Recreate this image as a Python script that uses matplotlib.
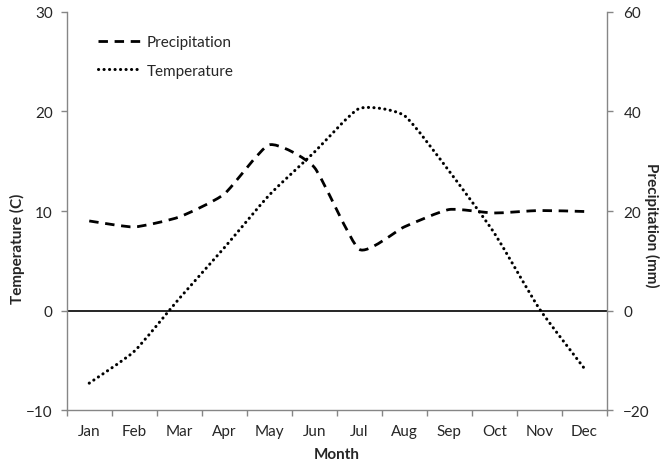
import matplotlib
matplotlib.use("Agg")
import matplotlib.pyplot as plt
import numpy as np
from matplotlib.path import Path
from matplotlib.patches import PathPatch
from matplotlib.lines import Line2D

plt.rcParams['font.family'] = ['Lato', 'DejaVu Sans']
plt.rcParams['font.size'] = 11

months = ['Jan', 'Feb', 'Mar', 'Apr', 'May', 'Jun',
          'Jul', 'Aug', 'Sep', 'Oct', 'Nov', 'Dec']
temperature = [-7.3, -4.1, 1.2, 6.3, 11.6, 15.9, 20.3, 19.6, 14.0, 7.8, 0.2, -5.8]
precipitation = [18.0, 16.8, 18.8, 23.4, 33.3, 28.8, 12.3, 16.8, 20.3, 19.6, 20.1, 19.9]

grey = '#868686'
txt = '#262626'


def smooth_path(x, y, k=1 / 11):
    # cubic bezier through every point, tangents scaled by k
    pts = np.column_stack([x, y]).astype(float)
    n = len(pts)
    verts = [pts[0]]
    for i in range(n - 1):
        p0 = pts[max(i - 1, 0)]
        p1 = pts[i]
        p2 = pts[i + 1]
        p3 = pts[min(i + 2, n - 1)]
        verts += [p1 + (p2 - p0) * k, p2 - (p3 - p1) * k, p2]
    codes = [Path.MOVETO] + [Path.CURVE4] * (3 * (n - 1))
    return Path(verts, codes)


x = np.arange(len(months))

fig = plt.figure(figsize=(6.64, 4.64), dpi=100)
ax = fig.add_axes([0.1005, 0.1142, 0.8132, 0.8578])
ax2 = ax.twinx()

dash_style = (0, (3.4, 2.4))
dot_style = (0, (0.05, 1.75))

temp_patch = PathPatch(smooth_path(x, temperature), fill=False, edgecolor='black',
                       lw=2.2, linestyle=dot_style, capstyle='round')
ax.add_patch(temp_patch)
prec_patch = PathPatch(smooth_path(x, precipitation), fill=False, edgecolor='black',
                       lw=2.0, linestyle=dash_style, capstyle='butt')
ax2.add_patch(prec_patch)

ax.axhline(0, color='black', lw=1.2, zorder=1)

ax.set_xlim(-0.5, 11.5)
ax.set_ylim(-10, 30)
ax2.set_ylim(-20, 60)
ax.set_yticks([-10, 0, 10, 20, 30])
ax2.set_yticks([-20, 0, 20, 40, 60])

ax.set_xticks(x)
ax.set_xticklabels(months)
ax.set_xticks(np.arange(-0.5, 12, 1), minor=True)
ax.tick_params(axis='x', which='major', length=0, pad=10, colors=txt)
ax.tick_params(axis='x', which='minor', length=4, width=1, color=grey, direction='out')
ax.tick_params(axis='y', length=4, width=1, color=grey, labelcolor=txt, pad=6)
ax2.tick_params(axis='y', length=4, width=1, color=grey, labelcolor=txt, pad=8)

for a in (ax, ax2):
    for s in a.spines.values():
        s.set_color(grey)
        s.set_linewidth(1)
    a.spines['top'].set_visible(False)
ax.spines['right'].set_visible(False)
ax2.spines['left'].set_visible(False)
ax2.spines['bottom'].set_visible(False)

fig.text(17.5 / 664, 1 - 249 / 464, 'Temperature (C)', rotation=90, fontsize=11,
         ha='center', va='center', fontweight='bold', color=txt)
fig.text(652 / 664, 1 - 225 / 464, 'Precipitation (mm)', rotation=270, fontsize=11,
         ha='center', va='center', fontweight='bold', color=txt)
fig.text(337 / 664, 1 - 455 / 464, 'Month', ha='center', va='center', fontsize=11,
         fontweight='bold', color=txt)

handles = [Line2D([], [], color='black', lw=2.0, linestyle=dash_style),
           Line2D([], [], color='black', lw=2.2, linestyle=dot_style,
                  dash_capstyle='round')]
ax2.legend(handles, ['Precipitation', 'Temperature'], loc='upper left',
           bbox_to_anchor=(0.0585, 0.942), frameon=False, borderpad=0,
           borderaxespad=0, handlelength=2.85, handletextpad=0.3,
           labelspacing=0.95, labelcolor=txt)

fig.savefig('out.png', dpi=100)
